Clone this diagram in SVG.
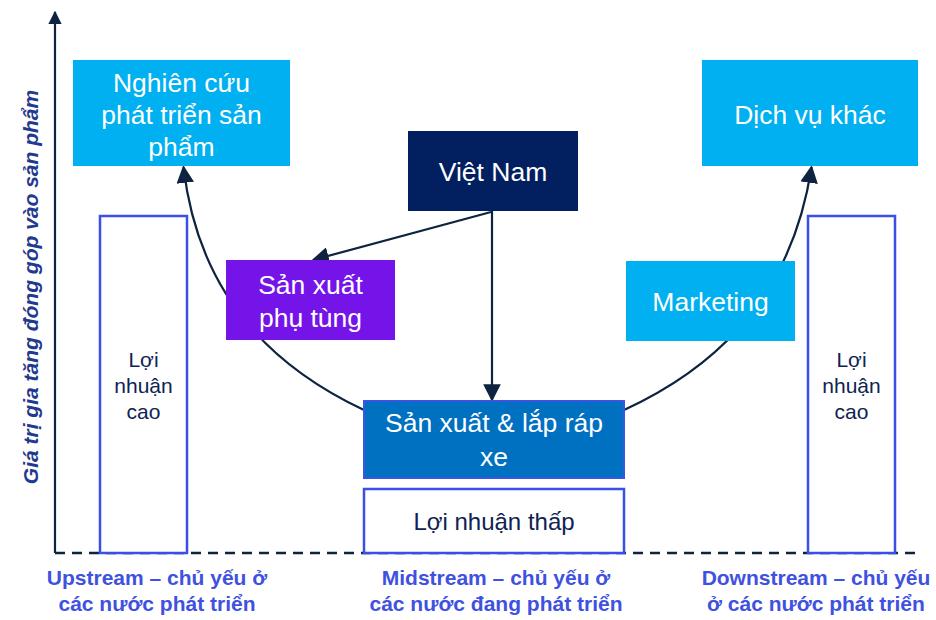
<svg xmlns="http://www.w3.org/2000/svg" width="936" height="620" viewBox="0 0 936 620">
<defs>
<marker id="ah" viewBox="0 0 10 10" refX="9" refY="5" markerWidth="8" markerHeight="8" markerUnits="strokeWidth" orient="auto">
<path d="M0,0 L10,5 L0,10 Z" fill="#0E2340"/>
</marker>
<marker id="ahBig" viewBox="0 0 10 10" refX="9" refY="5" markerWidth="6" markerHeight="6" markerUnits="strokeWidth" orient="auto">
<path d="M0,0 L10,5 L0,10 Z" fill="#0E2340"/>
</marker>
<style>
.wt{font-family:"Liberation Sans",Arial,sans-serif;font-size:26.5px;fill:#ffffff;text-anchor:middle}
.dk{font-family:"Liberation Sans",Arial,sans-serif;fill:#0E2352;text-anchor:middle}
.lbl{font-family:"Liberation Sans",Arial,sans-serif;font-size:21px;font-weight:bold;fill:#3F51E0;text-anchor:middle}
.prof{fill:#ffffff;stroke:#3A4FE3;stroke-width:2.5}
.con{fill:none;stroke:#0E2340;stroke-width:2.2}
</style>
</defs>
<rect width="936" height="620" fill="#ffffff"/>

<g id="axes">
<line x1="55" y1="553" x2="55" y2="12" class="con" stroke-width="2.5" marker-end="url(#ahBig)"/>
<line x1="55" y1="553" x2="922" y2="553" stroke="#0E2340" stroke-width="2.5" stroke-dasharray="10,7"/>
<text transform="translate(38,287) rotate(-90)" text-anchor="middle" font-family="Liberation Sans, Arial, sans-serif" font-size="21" font-weight="bold" font-style="italic" fill="#1F3A8F">Giá trị gia tăng đóng góp vào sản phẩm</text>
</g>

<g id="profit-left">
<rect x="100" y="216" width="87" height="337" class="prof"/>
<text class="dk" font-size="21"><tspan x="143.5" y="367">Lợi</tspan><tspan x="143.5" y="393">nhuận</tspan><tspan x="143.5" y="419">cao</tspan></text>
</g>
<g id="profit-right">
<rect x="808" y="216" width="87" height="337" class="prof"/>
<text class="dk" font-size="21"><tspan x="851.5" y="367">Lợi</tspan><tspan x="851.5" y="393">nhuận</tspan><tspan x="851.5" y="419">cao</tspan></text>
</g>

<g id="connectors">
<path d="M364,410 C290,375 200,310 183.5,167" class="con" marker-end="url(#ah)"/>
<path d="M624,410 C700,375 790,310 811.5,167" class="con" marker-end="url(#ah)"/>
<line x1="492" y1="211" x2="492" y2="400" class="con" marker-end="url(#ah)"/>
<line x1="491" y1="212" x2="313" y2="260" class="con" marker-end="url(#ah)"/>
</g>

<g id="rnd">
<rect x="73" y="60" width="217" height="106" fill="#00B0F0"/>
<text class="wt"><tspan x="181.5" y="92">Nghiên cứu</tspan><tspan x="181.5" y="124">phát triển sản</tspan><tspan x="181.5" y="156">phẩm</tspan></text>
</g>
<g id="dichvu">
<rect x="702" y="60" width="216" height="106" fill="#00B0F0"/>
<text class="wt" x="810" y="124">Dịch vụ khác</text>
</g>
<g id="vietnam">
<rect x="408" y="131" width="170" height="80" fill="#022060"/>
<text class="wt" x="493" y="181">Việt Nam</text>
</g>
<g id="phutung">
<rect x="226" y="260" width="169" height="80" fill="#7514E8"/>
<text class="wt"><tspan x="310.5" y="294">Sản xuất</tspan><tspan x="310.5" y="327">phụ tùng</tspan></text>
</g>
<g id="marketing">
<rect x="626" y="261" width="169" height="80" fill="#00B0F0"/>
<text class="wt" x="710.5" y="311">Marketing</text>
</g>
<g id="laprap">
<rect x="364" y="401" width="260" height="77" fill="#0070C0" stroke="#3A55E3" stroke-width="2"/>
<text class="wt"><tspan x="494" y="432">Sản xuất &amp; lắp ráp</tspan><tspan x="494" y="466">xe</tspan></text>
</g>
<g id="loinhuanthap">
<rect x="364" y="489" width="260" height="64" class="prof"/>
<text class="dk" font-size="24" x="494" y="530">Lợi nhuận thấp</text>
</g>

<g id="labels">
<text class="lbl"><tspan x="157" y="585">Upstream – chủ yếu ở</tspan><tspan x="157" y="611">các nước phát triển</tspan></text>
<text class="lbl"><tspan x="496" y="585">Midstream – chủ yếu ở</tspan><tspan x="496" y="611">các nước đang phát triển</tspan></text>
<text class="lbl"><tspan x="816" y="585">Downstream – chủ yếu</tspan><tspan x="816" y="611">ở các nước phát triển</tspan></text>
</g>
</svg>
